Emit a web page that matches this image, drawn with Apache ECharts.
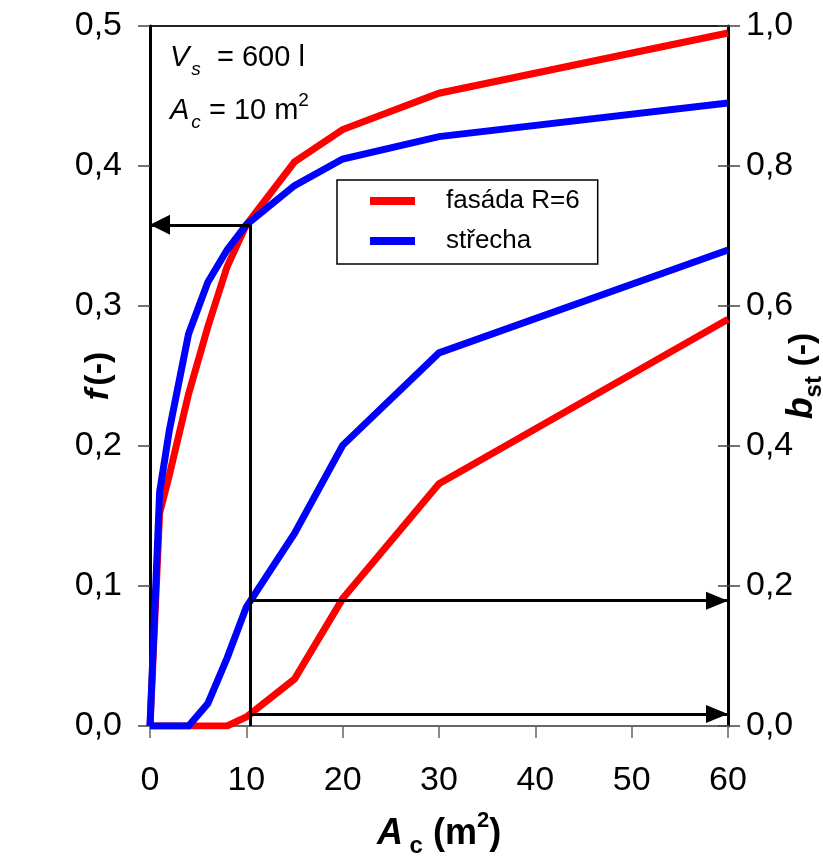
<!DOCTYPE html>
<html>
<head>
<meta charset="utf-8">
<script src="https://cdn.jsdelivr.net/npm/echarts@6/dist/echarts.min.js"></script>
<style>
  html, body { margin: 0; padding: 0; background: #fff; }
  #chart { width: 823px; height: 860px; }
</style>
</head>
<body>
<div id="chart"></div>
<script>
// Collector area A_c (m2) at which both collector variants were evaluated
const areas = [0, 1, 2, 4, 6, 8, 10, 15, 20, 30, 60];

// Solar fraction f (-), left axis
const fFasada  = [0, 0.152, 0.179, 0.237, 0.285, 0.328, 0.358, 0.403, 0.426, 0.452, 0.495];
const fStrecha = [0, 0.167, 0.211, 0.280, 0.317, 0.340, 0.358, 0.386, 0.405, 0.421, 0.445];

// Stagnation share b_st (-), right axis
const bFasada  = [0, 0, 0, 0, 0, 0, 0.013, 0.067, 0.182, 0.346, 0.581];
const bStrecha = [0, 0, 0, 0, 0.032, 0.097, 0.170, 0.275, 0.401, 0.533, 0.680];

// Reading guide for the design point A_c = 10 m2
const refArea = 10.4;
const refF = 0.358;
const refB = [0.179, 0.017];

// Axis tick labels (decimal comma)
const xTicks = ['0', '10', '20', '30', '40', '50', '60'];
const fTicks = ['0,0', '0,1', '0,2', '0,3', '0,4', '0,5'];
const bTicks = ['0,0', '0,2', '0,4', '0,6', '0,8', '1,0'];

const seriesNames = ['fasáda R=6', 'střecha'];
const RED = '#ff0000';
const BLUE = '#0000ff';

const NUM_FONT = '"Liberation Sans Narrow", "Liberation Sans", Arial, sans-serif';
const TXT_FONT = '"Liberation Sans", Arial, sans-serif';

function pairs(xs, ys) { return xs.map((x, i) => [x, ys[i]]); }

const chart = echarts.init(document.getElementById('chart'), null, { renderer: 'canvas' });

const curveStyle = (color) => ({
  type: 'line',
  showSymbol: false,
  symbol: 'none',
  lineStyle: { color: color, width: 7, join: 'miter' },
  itemStyle: { color: color },
  animation: false,
  silent: true
});

const guideLine = { color: '#000', width: 3, type: 'solid' };

const option = {
  backgroundColor: '#fff',
  animation: false,
  grid: {
    left: 150, right: 95, top: 26, bottom: 134,
    containLabel: false, outerBoundsMode: 'none',
    show: true, borderColor: '#222', borderWidth: 2, backgroundColor: 'transparent'
  },
  legend: {
    data: seriesNames,
    orient: 'vertical',
    left: 337, top: 180,
    icon: 'rect',
    itemWidth: 45, itemHeight: 8,
    itemGap: 14,
    itemStyle: { borderWidth: 0 },
    borderColor: '#000', borderWidth: 1.5,
    padding: [8, 18, 10, 33],
    textStyle: { fontFamily: TXT_FONT, fontSize: 26, color: '#000', lineHeight: 26, padding: [0, 0, 0, 26] },
    selectedMode: false
  },
  xAxis: {
    type: 'value', min: 0, max: 60, interval: 10,
    axisLine: { show: true, onZero: false, lineStyle: { color: '#666', width: 2 } },
    axisTick: { show: true, length: 12, lineStyle: { color: '#666', width: 1.5 } },
    splitLine: { show: false },
    axisLabel: {
      margin: 38, fontFamily: NUM_FONT, fontSize: 34, color: '#000',
      formatter: (v) => xTicks[Math.round(v / 10)]
    },
    name: '{bi|A}{sub| c}{b| (m}{sup|2}{b|)}',
    nameLocation: 'middle', nameGap: 84, nameMoveOverlap: false,
    nameTextStyle: {
      rich: {
        bi: { fontFamily: TXT_FONT, fontSize: 36, fontWeight: 'bold', fontStyle: 'italic', color: '#000', lineHeight: 42, verticalAlign: 'bottom' },
        b: { fontFamily: NUM_FONT, fontSize: 36, fontWeight: 'bold', fontStyle: 'normal', color: '#000', lineHeight: 42, verticalAlign: 'bottom' },
        sub: { fontFamily: NUM_FONT, fontSize: 24, fontWeight: 'bold', fontStyle: 'normal', color: '#000', lineHeight: 24, verticalAlign: 'bottom', padding: [0, 0, -6, 0] },
        sup: { fontFamily: NUM_FONT, fontSize: 22, fontWeight: 'bold', fontStyle: 'normal', color: '#000', lineHeight: 22, verticalAlign: 'top' }
      }
    }
  },
  yAxis: [
    {
      type: 'value', min: 0, max: 0.5, interval: 0.1, position: 'left',
      axisLine: { show: true, lineStyle: { color: '#000', width: 3 } },
      axisTick: { show: true, length: 12, lineStyle: { color: '#444', width: 1.5 } },
      splitLine: { show: false },
      axisLabel: {
        margin: 28, fontFamily: NUM_FONT, fontSize: 34, color: '#000',
        formatter: (v) => fTicks[Math.round(v * 10)]
      },
      name: '{bi|f} {b|(-)}',
      nameLocation: 'middle', nameRotate: 90, nameGap: 34, nameMoveOverlap: false,
      nameTextStyle: {
        rich: {
          bi: { fontFamily: TXT_FONT, fontSize: 34, fontWeight: 'bold', fontStyle: 'italic', color: '#000' },
          b: { fontFamily: TXT_FONT, fontSize: 34, fontWeight: 'bold', fontStyle: 'normal', color: '#000' }
        }
      }
    },
    {
      type: 'value', min: 0, max: 1, interval: 0.2, position: 'right',
      axisLine: { show: true, lineStyle: { color: '#000', width: 3 } },
      axisTick: { show: true, length: 12, lineStyle: { color: '#444', width: 1.5 } },
      splitLine: { show: false },
      axisLabel: {
        margin: 18, fontFamily: NUM_FONT, fontSize: 34, color: '#000',
        formatter: (v) => bTicks[Math.round(v * 5)]
      },
      name: '{bi|b}{sub|st}{b| (-)}',
      nameLocation: 'middle', nameRotate: 90, nameGap: 50, nameMoveOverlap: false,
      nameTextStyle: {
        rich: {
          bi: { fontFamily: TXT_FONT, fontSize: 36, fontWeight: 'bold', fontStyle: 'italic', color: '#000', lineHeight: 42, verticalAlign: 'bottom' },
          b: { fontFamily: TXT_FONT, fontSize: 34, fontWeight: 'bold', fontStyle: 'normal', color: '#000', lineHeight: 42, verticalAlign: 'bottom' },
          sub: { fontFamily: TXT_FONT, fontSize: 24, fontWeight: 'bold', fontStyle: 'normal', color: '#000', lineHeight: 24, verticalAlign: 'bottom', padding: [0, 0, -6, 0] }
        }
      }
    },
    {
      // inner half of the crossing ticks on the right axis
      type: 'value', min: 0, max: 1, interval: 0.2, position: 'right',
      axisLine: { show: false },
      axisTick: { show: true, inside: true, length: 10, lineStyle: { color: '#444', width: 1.5 } },
      axisLabel: { show: false },
      splitLine: { show: false }
    }
  ],
  graphic: [
    {
      type: 'text', left: 170, top: 43, z: 10,
      style: {
        text: '{i|V}{isub|s}{r|  = 600 l}',
        rich: {
          i: { fontFamily: TXT_FONT, fontSize: 29, fontStyle: 'italic', fill: '#000', lineHeight: 34, verticalAlign: 'bottom' },
          isub: { fontFamily: TXT_FONT, fontSize: 19, fontStyle: 'italic', fill: '#000', lineHeight: 18, verticalAlign: 'bottom', padding: [0, 0, -7, 2] },
          r: { fontFamily: TXT_FONT, fontSize: 29, fill: '#000', lineHeight: 34, verticalAlign: 'bottom' }
        }
      }
    },
    {
      type: 'text', left: 170, top: 91, z: 10,
      style: {
        text: '{i|A}{isub|c}{r| = 10 m}{sup|2}',
        rich: {
          i: { fontFamily: TXT_FONT, fontSize: 29, fontStyle: 'italic', fill: '#000', lineHeight: 34, verticalAlign: 'bottom' },
          isub: { fontFamily: TXT_FONT, fontSize: 19, fontStyle: 'italic', fill: '#000', lineHeight: 18, verticalAlign: 'bottom', padding: [0, 0, -7, 2] },
          r: { fontFamily: TXT_FONT, fontSize: 29, fill: '#000', lineHeight: 34, verticalAlign: 'bottom' },
          sup: { fontFamily: TXT_FONT, fontSize: 19, fill: '#000', lineHeight: 18, verticalAlign: 'top' }
        }
      }
    }
  ],
  series: [
    Object.assign(curveStyle(RED), { name: seriesNames[0], yAxisIndex: 0, data: pairs(areas, fFasada), z: 2 }),
    Object.assign(curveStyle(RED), { name: seriesNames[0], yAxisIndex: 1, data: pairs(areas, bFasada), z: 2 }),
    Object.assign(curveStyle(BLUE), { name: seriesNames[1], yAxisIndex: 0, data: pairs(areas, fStrecha), z: 3 }),
    Object.assign(curveStyle(BLUE), { name: seriesNames[1], yAxisIndex: 1, data: pairs(areas, bStrecha), z: 3 }),
    {
      // guide on the f axis: vertical drop line and arrow to the left axis
      type: 'line', yAxisIndex: 0, data: [], z: 5, silent: true, animation: false,
      markLine: {
        silent: true, animation: false, label: { show: false },
        emphasis: { disabled: true },
        lineStyle: guideLine,
        data: [
          [{ coord: [refArea, refF], symbol: 'none' }, { coord: [refArea, 0], symbol: 'none' }],
          [{ coord: [refArea, refF], symbol: 'none' }, { coord: [0, refF], symbol: 'triangle', symbolSize: [20, 20], symbolOffset: [0, 10] }]
        ]
      }
    },
    {
      // guides on the b_st axis: arrows to the right axis
      type: 'line', yAxisIndex: 1, data: [], z: 5, silent: true, animation: false,
      markLine: {
        silent: true, animation: false, label: { show: false },
        emphasis: { disabled: true },
        lineStyle: guideLine,
        data: refB.map((b) => [
          { coord: [refArea, b], symbol: 'none' },
          { coord: [60, b], symbol: 'triangle', symbolSize: [18, 22], symbolOffset: [0, 11] }
        ])
      }
    }
  ]
};

chart.setOption(option);
</script>
</body>
</html>
